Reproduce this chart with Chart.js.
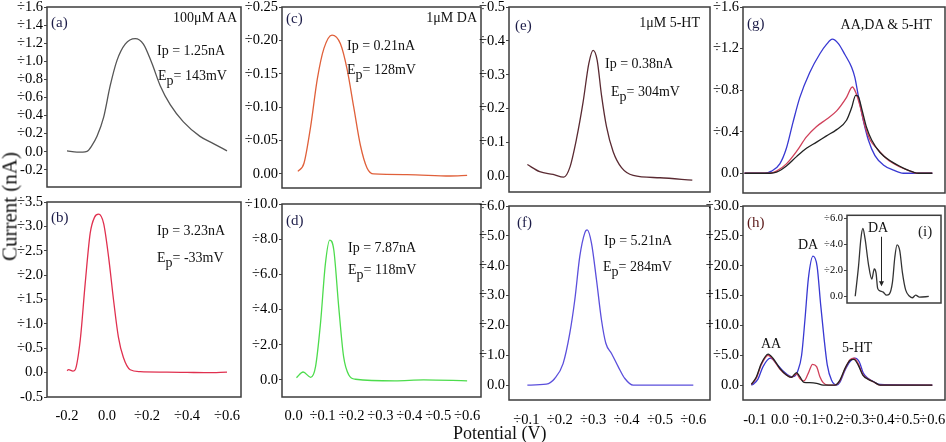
<!DOCTYPE html>
<html>
<head>
<meta charset="utf-8">
<script src="https://cdn.jsdelivr.net/npm/chart.js@4.4.1/dist/chart.umd.min.js"></script>
<style>
  html, body { margin: 0; padding: 0; background: #fff; }
  #fig { position: relative; width: 946px; height: 442px; overflow: hidden; background: #fff; }
  #fig canvas { position: absolute; }
  .lbl { position: absolute; font-family: "Liberation Serif", "Times New Roman", serif; font-size: 14px; line-height: 1; white-space: nowrap; color: #111; }
  .lbl .sb { position: relative; top: 5px; }
  .tag { font-size: 15px; color: #1c1c48; }
  .axt { position: absolute; font-family: "Liberation Serif", serif; line-height: 1; white-space: nowrap; color: #111; }
</style>
</head>
<body>
<div id="fig"></div>
<script>
// ---- data (potential in V, current in nA) ----
const potA = [-0.2, -0.15, -0.1, -0.075, -0.05, -0.017, 0.016, 0.05, 0.091, 0.141, 0.182, 0.224, 0.266, 0.316, 0.382, 0.465, 0.532, 0.6];
const curA = [0.01, -0.005, 0.005, 0.07, 0.17, 0.38, 0.73, 1.01, 1.19, 1.25, 1.19, 0.98, 0.73, 0.52, 0.33, 0.17, 0.09, 0.01];

const potB = [-0.2, -0.192, -0.17, -0.159, -0.134, -0.109, -0.084, -0.062, -0.042, -0.017, 0.008, 0.033, 0.057, 0.082, 0.116, 0.166, 0.3, 0.4, 0.5, 0.6];
const curB = [0.04, 0.06, 0.03, 0.06, 0.66, 1.83, 2.86, 3.19, 3.25, 3.06, 2.37, 1.48, 0.73, 0.31, 0.06, 0.02, 0.01, 0.005, 0.0, 0.01];

const potC = [0.015, 0.036, 0.059, 0.082, 0.105, 0.133, 0.162, 0.185, 0.208, 0.231, 0.254, 0.277, 0.392, 0.541, 0.6];
const curC = [0.004, 0.016, 0.071, 0.142, 0.188, 0.208, 0.195, 0.157, 0.1, 0.043, 0.009, 0.0, -0.001, -0.003, -0.002];

const potD = [0.01, 0.033, 0.059, 0.076, 0.093, 0.11, 0.125, 0.139, 0.156, 0.173, 0.191, 0.214, 0.35, 0.45, 0.6];
const curD = [0.13, 0.45, 0.15, 0.76, 3.2, 6.6, 7.95, 7.4, 4.17, 1.32, 0.28, 0.04, -0.05, 0.0, -0.05];

const potE = [0.103, 0.14, 0.18, 0.212, 0.23, 0.25, 0.27, 0.287, 0.3, 0.312, 0.325, 0.34, 0.36, 0.385, 0.42, 0.5, 0.597];
const curE = [0.035, 0.014, 0.006, -0.002, 0.026, 0.11, 0.22, 0.333, 0.372, 0.343, 0.24, 0.147, 0.073, 0.026, 0.003, -0.004, -0.011];

const potF = [0.103, 0.16, 0.185, 0.21, 0.23, 0.245, 0.26, 0.275, 0.282, 0.295, 0.31, 0.325, 0.338, 0.355, 0.375, 0.395, 0.42, 0.6];
const curF = [0.0, 0.03, 0.22, 0.72, 1.73, 2.85, 4.31, 5.1, 5.2, 4.76, 3.53, 2.18, 1.4, 1.06, 0.62, 0.22, 0.0, 0.0];

// (g) mixture, three runs
const potGk = [-0.14, -0.04, -0.014, 0.025, 0.065, 0.104, 0.144, 0.183, 0.223, 0.262, 0.282, 0.298, 0.308, 0.322, 0.341, 0.361, 0.394, 0.434, 0.486, 0.526, 0.545, 0.6];
const curGk = [0, 0, 0.01, 0.07, 0.16, 0.24, 0.30, 0.36, 0.42, 0.51, 0.63, 0.75, 0.74, 0.62, 0.44, 0.32, 0.2, 0.12, 0.05, 0.01, 0.0, 0.0];
const potGr = [-0.14, -0.04, -0.014, 0.025, 0.065, 0.104, 0.144, 0.183, 0.223, 0.262, 0.285, 0.298, 0.315, 0.335, 0.355, 0.381, 0.42, 0.473, 0.513, 0.539, 0.6];
const curGr = [0, 0, 0.02, 0.09, 0.21, 0.35, 0.45, 0.52, 0.60, 0.73, 0.83, 0.78, 0.65, 0.45, 0.32, 0.24, 0.14, 0.06, 0.02, 0.0, 0.0];
const potGb = [-0.14, -0.06, -0.034, -0.001, 0.025, 0.051, 0.078, 0.117, 0.157, 0.183, 0.206, 0.229, 0.256, 0.282, 0.295, 0.308, 0.328, 0.348, 0.374, 0.407, 0.447, 0.486, 0.6];
const curGb = [0, 0, 0.02, 0.09, 0.24, 0.49, 0.73, 0.97, 1.15, 1.24, 1.29, 1.25, 1.14, 1.02, 0.92, 0.75, 0.51, 0.32, 0.17, 0.08, 0.03, 0.0, 0.0];

// (h) mixture, three runs
const potHk = [-0.113, -0.093, -0.074, -0.047, -0.028, -0.001, 0.025, 0.045, 0.065, 0.078, 0.094, 0.117, 0.144, 0.17, 0.216, 0.236, 0.256, 0.275, 0.291, 0.308, 0.326, 0.348, 0.368, 0.394, 0.6];
const curHk = [0.1, 1.4, 3.6, 5.2, 4.5, 2.8, 1.7, 1.3, 2.1, 1.4, 0.45, 0.4, 0.3, 0.0, 0.0, 0.84, 2.8, 4.1, 4.3, 3.35, 1.68, 0.95, 0.56, 0.0, 0.0];
const potHr = [-0.113, -0.093, -0.074, -0.047, -0.028, -0.001, 0.025, 0.045, 0.065, 0.08, 0.094, 0.111, 0.128, 0.144, 0.157, 0.17, 0.19, 0.216, 0.236, 0.256, 0.275, 0.291, 0.308, 0.326, 0.348, 0.368, 0.394, 0.6];
const curHr = [0.1, 1.2, 3.4, 5.0, 4.3, 2.7, 1.7, 1.3, 1.9, 1.0, 0.7, 1.96, 3.47, 3.1, 1.4, 0.4, 0.0, 0.0, 0.7, 2.7, 4.2, 4.5, 3.6, 1.8, 1.0, 0.55, 0.0, 0.0];
const potHb = [-0.113, -0.107, -0.087, -0.067, -0.038, -0.014, 0.012, 0.038, 0.051, 0.071, 0.085, 0.098, 0.112, 0.13, 0.146, 0.16, 0.173, 0.186, 0.203, 0.223, 0.236, 0.256, 0.275, 0.295, 0.312, 0.328, 0.348, 0.368, 0.394, 0.6];
const curHb = [0, 0.1, 1.0, 3.1, 4.5, 3.6, 2.35, 1.5, 1.4, 2.5, 5.0, 10.9, 18, 21.6, 19.9, 13.5, 8, 3.4, 0.8, 0, 0.5, 2.5, 3.9, 4.5, 3.9, 2.0, 1.1, 0.6, 0.1, 0];

// (i) inset
const potI = [-0.08, -0.052, -0.032, -0.015, 0.004, 0.032, 0.061, 0.082, 0.097, 0.111, 0.13, 0.158, 0.187, 0.209, 0.237, 0.257, 0.276, 0.299, 0.322, 0.349, 0.383, 0.406, 0.434, 0.467, 0.546];
const curI = [0.02, 2.3, 4.4, 5.2, 4.4, 2.5, 1.33, 2.1, 1.8, 0.62, 0.43, 0.33, 0.1, 0.17, 1.1, 3.0, 3.95, 3.5, 1.8, 0.5, 0.02, -0.1, 0.1, -0.05, 0.0];
const arrowI = [0.139, 4.57, 0.86]; // potential, from, to

// ---- ticks ----
const yTicksA = [-0.2, 0, 0.2, 0.4, 0.6, 0.8, 1.0, 1.2, 1.4, 1.6];
const yLabelsA = ["-0.2", "0.0", "÷0.2", "÷0.4", "÷0.6", "÷0.8", "÷1.0", "÷1.2", "÷1.4", "÷1.6"];
const yTicksB = [-0.5, 0, 0.5, 1.0, 1.5, 2.0, 2.5, 3.0, 3.5];
const yLabelsB = ["-0.5", "0.0", "÷0.5", "÷1.0", "÷1.5", "÷2.0", "÷2.5", "÷3.0", "÷3.5"];
const xTicksAB = [-0.2, 0, 0.2, 0.4, 0.6];
const xLabelsAB = ["-0.2", "0.0", "÷0.2", "÷0.4", "÷0.6"];
const yTicksC = [0, 0.05, 0.10, 0.15, 0.20, 0.25];
const yLabelsC = ["0.00", "÷0.05", "÷0.10", "÷0.15", "÷0.20", "÷0.25"];
const yTicksD = [0, 2, 4, 6, 8, 10];
const yLabelsD = ["0.0", "÷2.0", "÷4.0", "÷6.0", "÷8.0", "÷10.0"];
const xTicksCD = [0, 0.1, 0.2, 0.3, 0.4, 0.5, 0.6];
const xLabelsCD = ["0.0", "÷0.1", "÷0.2", "÷0.3", "÷0.4", "÷0.5", "÷0.6"];
const yTicksE = [0, 0.1, 0.2, 0.3, 0.4, 0.5];
const yLabelsE = ["0.0", "÷0.1", "÷0.2", "÷0.3", "÷0.4", "÷0.5"];
const yTicksF = [0, 1, 2, 3, 4, 5, 6];
const yLabelsF = ["0.0", "÷1.0", "÷2.0", "÷3.0", "÷4.0", "÷5.0", "÷6.0"];
const xTicksEF = [0.1, 0.2, 0.3, 0.4, 0.5, 0.6];
const xLabelsEF = ["÷0.1", "÷0.2", "÷0.3", "÷0.4", "÷0.5", "÷0.6"];
const yTicksG = [0, 0.4, 0.8, 1.2, 1.6];
const yLabelsG = ["0.0", "÷0.4", "÷0.8", "÷1.2", "÷1.6"];
const yTicksH = [0, 5, 10, 15, 20, 25, 30];
const yLabelsH = ["0.0", "÷5.0", "÷10.0", "÷15.0", "÷20.0", "÷25.0", "÷30.0"];
const xTicksGH = [-0.1, 0, 0.1, 0.2, 0.3, 0.4, 0.5, 0.6];
const xLabelsGH = ["-0.1", "0.0", "÷0.1", "÷0.2", "÷0.3", "÷0.4", "÷0.5", "÷0.6"];
const yTicksI = [0, 2, 4, 6];
const yLabelsI = ["0.0", "÷2.0", "÷4.0", "÷6.0"];

const BLACK = '#222222', RED = '#d0405a', BLUE = '#3838d2';

const fig = document.getElementById('fig');

// frame round the plot area (and white fill for the inset)
const boxFrame = {
  id: 'boxFrame',
  beforeDraw(chart, args, opts) {
    if (!opts.fill) return;
    const { ctx, chartArea: a } = chart;
    ctx.save();
    ctx.fillStyle = opts.fill;
    ctx.fillRect(a.left, a.top, a.right - a.left, a.bottom - a.top);
    ctx.restore();
  },
  afterDatasetsDraw(chart, args, opts) {
    const { ctx, chartArea: a, scales } = chart;
    ctx.save();
    if (opts.arrow) {
      const xv = opts.arrow[0], y0 = opts.arrow[1], y1 = opts.arrow[2];
      const px = Math.round(scales.x.getPixelForValue(xv)) + 0.5;
      const p0 = scales.y.getPixelForValue(y0), p1 = scales.y.getPixelForValue(y1);
      ctx.strokeStyle = '#222'; ctx.lineWidth = 1;
      ctx.beginPath(); ctx.moveTo(px, p0); ctx.lineTo(px, p1); ctx.stroke();
      ctx.fillStyle = '#222';
      ctx.beginPath(); ctx.moveTo(px - 2.5, p1 - 4); ctx.lineTo(px + 2.5, p1 - 4); ctx.lineTo(px, p1 + 1); ctx.closePath(); ctx.fill();
    }
    ctx.strokeStyle = '#3c3c3c';
    ctx.lineWidth = 1.5;
    ctx.strokeRect(a.left, a.top, a.right - a.left, a.bottom - a.top);
    ctx.restore();
  }
};

function series(xs, ys, color) {
  return {
    data: xs.map((v, i) => ({ x: v, y: ys[i] })),
    borderColor: color, borderWidth: 1.3, pointRadius: 0,
    cubicInterpolationMode: 'monotone', fill: false
  };
}

function drawPanel(p) {
  const [L, T, R, B] = p.box;
  const padL = p.padL || 44, padT = p.padT || 10, padR = p.padR || 16;
  const padB = p.xTicks ? 26 : (p.padB || 10);
  const w = R - L + padL + padR, h = B - T + padT + padB;
  const cv = document.createElement('canvas');
  cv.width = w; cv.height = h;
  cv.style.left = (L - padL) + 'px';
  cv.style.top = (T - padT) + 'px';
  cv.style.width = w + 'px';
  cv.style.height = h + 'px';
  fig.appendChild(cv);
  const font = { family: '"Liberation Serif", serif', size: p.fontSize || 14.5 };
  const xLab = p.xLabels || [];
  new Chart(cv, {
    type: 'line',
    data: { datasets: p.sets },
    options: {
      responsive: false, animation: false, devicePixelRatio: 1,
      layout: { padding: { left: 0, top: padT, right: padR, bottom: p.xTicks ? 0 : padB } },
      plugins: { legend: { display: false }, tooltip: { enabled: false }, boxFrame: { fill: p.fill || null, arrow: p.arrow || null } },
      scales: {
        x: {
          type: 'linear', min: p.x[0], max: p.x[1], display: !!p.xTicks,
          grid: { display: false }, border: { display: false },
          afterBuildTicks: ax => { if (p.xTicks) ax.ticks = p.xTicks.map(v => ({ value: v })); },
          afterFit: ax => { ax.height = padB; },
          ticks: { autoSkip: false, maxRotation: 0, padding: p.xPad || 3, color: '#000', font,
                   callback: (v, i) => (xLab[i] !== undefined ? xLab[i] : '') }
        },
        y: {
          type: 'linear', min: p.y[0], max: p.y[1],
          grid: { display: true, drawOnChartArea: false, drawTicks: true, tickLength: 3, color: '#444' },
          border: { display: false },
          afterBuildTicks: ax => { ax.ticks = p.yTicks.map(v => ({ value: v })); },
          afterFit: ax => { ax.width = padL; },
          ticks: { autoSkip: false, padding: 1, color: '#000', font,
                   callback: (v, i) => (p.yLabels[i] !== undefined ? p.yLabels[i] : '') }
        }
      }
    },
    plugins: [boxFrame]
  });
}

const panels = [
  { box: [47, 7, 241, 197], x: [-0.3, 0.67], y: [-0.39, 1.6], yTicks: yTicksA, yLabels: yLabelsA,
    sets: [series(potA, curA, '#555555')] },
  { box: [47, 202, 241, 397], x: [-0.3, 0.67], y: [-0.5, 3.5], yTicks: yTicksB, yLabels: yLabelsB,
    xTicks: xTicksAB, xLabels: xLabelsAB, xPad: 2, sets: [series(potB, curB, '#e0304f')] },
  { box: [282, 7, 481, 198], x: [-0.04, 0.648], y: [-0.021, 0.25], yTicks: yTicksC, yLabels: yLabelsC,
    sets: [series(potC, curC, '#e0603a')] },
  { box: [282, 204, 481, 397], x: [-0.04, 0.648], y: [-0.97, 10], yTicks: yTicksD, yLabels: yLabelsD,
    xTicks: xTicksCD, xLabels: xLabelsCD, xPad: 2, sets: [series(potD, curD, '#4ddc4d')] },
  { box: [509, 7, 710, 202], x: [0.048, 0.65], y: [-0.046, 0.5], yTicks: yTicksE, yLabels: yLabelsE,
    sets: [series(potE, curE, '#5a2a32')] },
  { box: [509, 206, 710, 400], x: [0.048, 0.65], y: [-0.5, 6], yTicks: yTicksF, yLabels: yLabelsF,
    xTicks: xTicksEF, xLabels: xLabelsEF, sets: [series(potF, curF, '#5b4fdc')] },
  { box: [743, 7, 945, 203], x: [-0.146, 0.65], y: [-0.19, 1.6], yTicks: yTicksG, yLabels: yLabelsG,
    sets: [series(potGk, curGk, BLACK), series(potGr, curGr, RED), series(potGb, curGb, BLUE)] },
  { box: [743, 206, 945, 400], x: [-0.146, 0.65], y: [-2.5, 30], yTicks: yTicksH, yLabels: yLabelsH,
    xTicks: xTicksGH, xLabels: xLabelsGH,
    sets: [series(potHk, curHk, BLACK), series(potHr, curHr, RED), series(potHb, curHb, BLUE)] },
  { box: [847, 215, 941, 309], x: [-0.15, 0.65], y: [-0.5, 6.21], yTicks: yTicksI, yLabels: yLabelsI,
    padL: 26, padT: 7, padR: 4, padB: 6, fontSize: 10.5, fill: '#ffffff', arrow: arrowI,
    sets: [series(potI, curI, '#333333')] }
];
panels.forEach(p => {
  try { drawPanel(p); } catch (e) { console.error(e); }
});

// ---- annotations ----
const notes = [
  { t: '(a)', l: 51, y: 14.5, c: 'tag' },
  { t: '100μM AA', r: 237, y: 10.7 },
  { t: 'Ip = 1.25nA', l: 157, y: 44.3 },
  { t: 'E<span class="sb">p</span>= 143mV', l: 158, y: 69.2 },
  { t: '(b)', l: 51, y: 209.5, c: 'tag' },
  { t: 'Ip = 3.23nA', l: 157, y: 223.5 },
  { t: 'E<span class="sb">p</span>= -33mV', l: 157, y: 250.9 },
  { t: '(c)', l: 286, y: 11.1, c: 'tag' },
  { t: '1μM DA', r: 477, y: 10.9 },
  { t: 'Ip = 0.21nA', l: 347, y: 39.2 },
  { t: 'E<span class="sb">p</span>= 128mV', l: 347, y: 62.5 },
  { t: '(d)', l: 286, y: 212.8, c: 'tag' },
  { t: 'Ip = 7.87nA', l: 348, y: 240.9 },
  { t: 'E<span class="sb">p</span>= 118mV', l: 348, y: 262.5 },
  { t: '(e)', l: 515, y: 17.8, c: 'tag' },
  { t: '1μM 5-HT', r: 700, y: 15.9 },
  { t: 'Ip = 0.38nA', l: 605, y: 56.9 },
  { t: 'E<span class="sb">p</span>= 304mV', l: 611, y: 84.9 },
  { t: '(f)', l: 517, y: 214.5, c: 'tag' },
  { t: 'Ip = 5.21nA', l: 604, y: 233.5 },
  { t: 'E<span class="sb">p</span>= 284mV', l: 603, y: 260.2 },
  { t: '(g)', l: 747, y: 16.1, c: 'tag' },
  { t: 'AA,DA &amp; 5-HT', r: 932, y: 17.5 },
  { t: '(h)', l: 747, y: 214.5, c: 'tag', color: '#5a1818' },
  { t: 'DA', l: 798, y: 237.5 },
  { t: 'AA', l: 761, y: 336.8 },
  { t: '5-HT', l: 842, y: 340.8 },
  { t: 'DA', l: 868, y: 220.8 },
  { t: '(i)', l: 918, y: 223.8, c: 'tag', color: '#222' }
];
notes.forEach(n => {
  const d = document.createElement('div');
  d.className = 'lbl' + (n.c ? ' ' + n.c : '');
  d.innerHTML = n.t;
  if (n.r !== undefined) d.style.right = (946 - n.r) + 'px'; else d.style.left = n.l + 'px';
  d.style.top = n.y + 'px';
  if (n.color) d.style.color = n.color;
  fig.appendChild(d);
});

// axis titles
const yt = document.createElement('div');
yt.className = 'axt';
yt.textContent = 'Current (nA)';
yt.style.fontSize = '21px';
yt.style.width = '200px';
yt.style.textAlign = 'center';
yt.style.left = (10 - 100) + 'px';
yt.style.top = (206 - 10.5) + 'px';
yt.style.transform = 'rotate(-90deg)';
fig.appendChild(yt);

const xt = document.createElement('div');
xt.className = 'axt';
xt.textContent = 'Potential (V)';
xt.style.fontSize = '18px';
xt.style.left = '453px';
xt.style.top = '423.5px';
fig.appendChild(xt);
</script>
</body>
</html>
